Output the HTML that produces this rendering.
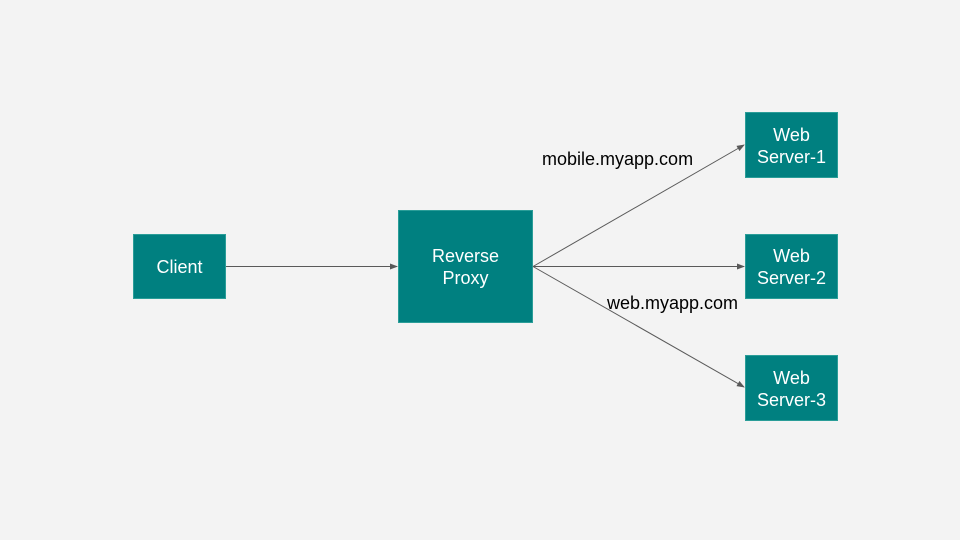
<!DOCTYPE html>
<html><head><style>
body{margin:0;background:#f3f3f3;}
svg{display:block}
text{font-family:"Liberation Sans",sans-serif;}
</style></head><body>
<svg width="960" height="540" viewBox="0 0 960 540">
<defs><marker id="a" markerWidth="8" markerHeight="6" refX="7" refY="3" orient="auto" markerUnits="userSpaceOnUse"><path d="M0,0 L8,3 L0,6 z" fill="#595959"/></marker></defs>
<rect width="960" height="540" fill="#f3f3f3"/>
<g fill="#008080" stroke="#2a9d98" stroke-width="1">
<rect x="133.5" y="234.5" width="92" height="64"/>
<rect x="398.5" y="210.5" width="134" height="112"/>
<rect x="745.5" y="112.5" width="92" height="65"/>
<rect x="745.5" y="234.5" width="92" height="64"/>
<rect x="745.5" y="355.5" width="92" height="65"/>
</g>
<g stroke="#595959" stroke-width="1" fill="none" marker-end="url(#a)">
<line x1="226" y1="266.5" x2="397" y2="266.5"/>
<line x1="533" y1="266.5" x2="744" y2="145"/>
<line x1="533" y1="266.5" x2="744" y2="266.5"/>
<line x1="533" y1="266.5" x2="744" y2="387"/>
</g>
<g fill="#fff" font-size="18" text-anchor="middle">
<text x="179.5" y="273">Client</text>
<text x="465.5" y="262">Reverse</text><text x="465.5" y="284">Proxy</text>
<text x="791.5" y="141">Web</text><text x="791.5" y="163">Server-1</text>
<text x="791.5" y="262">Web</text><text x="791.5" y="284">Server-2</text>
<text x="791.5" y="384">Web</text><text x="791.5" y="406">Server-3</text>
</g>
<g fill="#000" font-size="18">
<text x="542" y="165">mobile.myapp.com</text>
<text x="607" y="309">web.myapp.com</text>
</g>
</svg>
</body></html>
